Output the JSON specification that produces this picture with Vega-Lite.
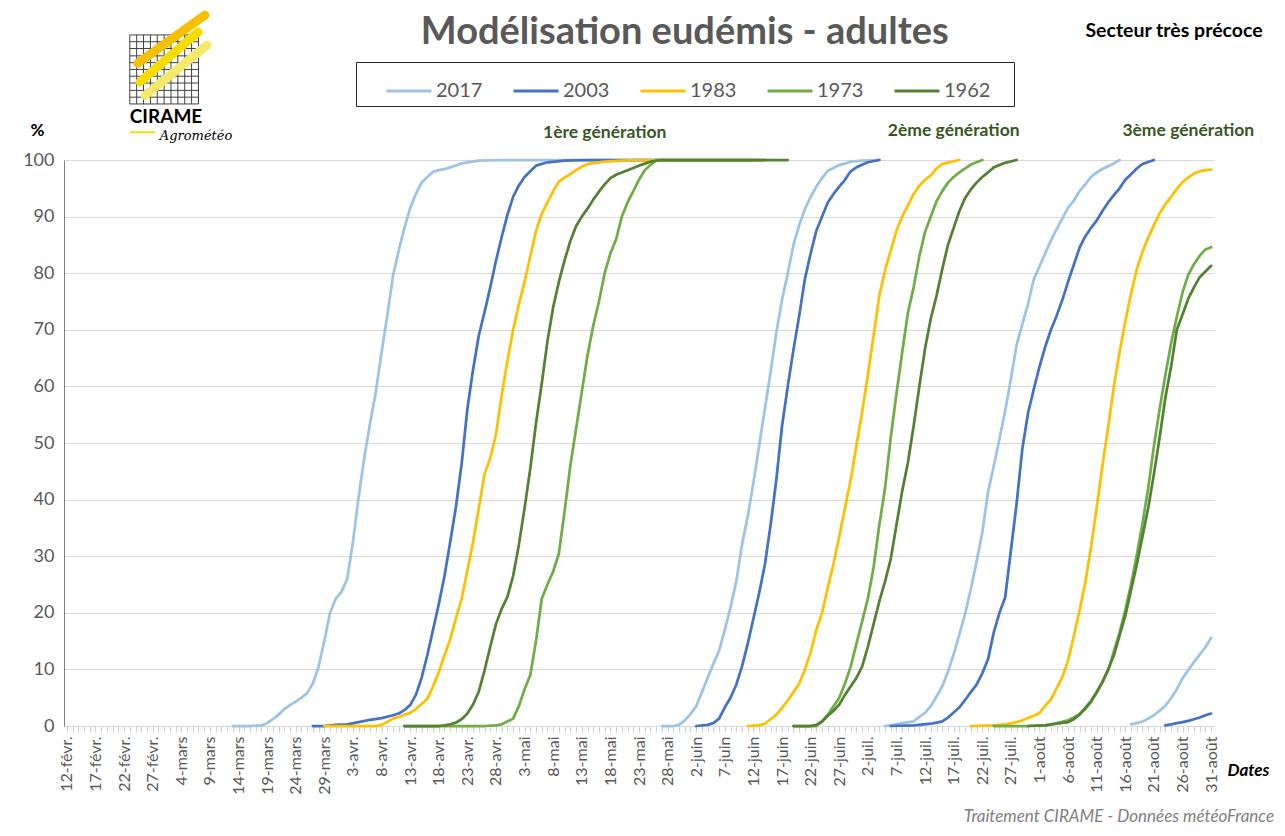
{
  "$schema": "https://vega.github.io/schema/vega-lite/v6.json",
  "width": 1150,
  "height": 566,
  "autosize": {"type": "none"},
  "padding": {"left": 64, "top": 160, "right": 71, "bottom": 110},
  "background": "white",
  "config": {"view": {"stroke": null}, "font": "Lato"},
  "encoding": {
    "x": {"field": "date", "type": "temporal",
      "scale": {"type": "utc", "domain": [{"year": 2017, "month": 2, "date": 11, "hours": 12, "utc": true}, {"year": 2017, "month": 8, "date": 31, "hours": 12, "utc": true}]},
      "axis": {"tickCount": {"interval": "day", "step": 1}, "labelExpr": "round((datum.value - utc(2017,1,12))/86400000) % 5 == 0 ? utcdate(datum.value) + '-' + ['janv.','févr.','mars','avr.','mai','juin','juil.','août'][utcmonth(datum.value)] : ''",
        "labelAngle": -90, "labelAlign": "right", "labelBaseline": "middle", "labelFontSize": 16, "labelColor": "#595959", "labelFont": "Lato", "labelPadding": 4, "labelOverlap": false, "labelBound": false, "labelFlush": false,
        "tickColor": "#d0d0d0", "tickSize": 6, "tickWidth": 1, "domainColor": "#d9d9d9", "domainWidth": 1, "grid": false,
        "title": "Dates", "titleX": 1184, "titleY": 44, "titleAlign": "center", "titleBaseline": "middle", "titleFontSize": 17, "titleFontWeight": "bold", "titleFontStyle": "italic", "titleColor": "#000000", "titleFont": "Lato"}},
    "y": {"field": "pct", "type": "quantitative",
      "scale": {"domain": [0, 100], "nice": false},
      "axis": {"values": [0, 10, 20, 30, 40, 50, 60, 70, 80, 90, 100], "labelFontSize": 18, "labelColor": "#595959", "labelFont": "Lato", "labelPadding": 10, "ticks": false,
        "grid": true, "gridColor": "#d9d9d9", "gridWidth": 1, "domainColor": "#7f7f7f", "domainWidth": 1,
        "title": "%", "titleAngle": 0, "titleX": -27, "titleY": -30, "titleAlign": "center", "titleBaseline": "middle", "titleFontSize": 17, "titleFontWeight": "bold", "titleColor": "#000000", "titleFont": "Lato"}}
  },
  "layer": [
    {
      "data": {"values": [
        {"date": "2017-02-23T00:00Z", "pct": 109.9, "pct2": 122.1}, {"date": "2017-02-24T04:48Z", "pct": 109.9, "pct2": 122.1}, {"date": "2017-02-25T09:36Z", "pct": 109.9, "pct2": 122.1}, {"date": "2017-02-26T14:24Z", "pct": 109.9, "pct2": 122.1}, {"date": "2017-02-27T19:12Z", "pct": 109.9, "pct2": 122.1}, {"date": "2017-03-01T00:00Z", "pct": 109.9, "pct2": 122.1}, {"date": "2017-03-02T04:48Z", "pct": 109.9, "pct2": 122.1}, {"date": "2017-03-03T09:36Z", "pct": 109.9, "pct2": 122.1}, {"date": "2017-03-04T14:24Z", "pct": 109.9, "pct2": 122.1}, {"date": "2017-03-05T19:12Z", "pct": 109.9, "pct2": 122.1}, {"date": "2017-03-07T00:00Z", "pct": 109.9, "pct2": 122.1}
      ]},
      "mark": {"type": "rule", "color": "#404040", "strokeWidth": 1},
      "encoding": {"y2": {"field": "pct2"}}
    },
    {
      "data": {"values": [
        {"date": "2017-02-23T00:00Z", "date2": "2017-03-07T00:00Z", "pct": 109.9}, {"date": "2017-02-23T00:00Z", "date2": "2017-03-07T00:00Z", "pct": 111.1}, {"date": "2017-02-23T00:00Z", "date2": "2017-03-07T00:00Z", "pct": 112.3}, {"date": "2017-02-23T00:00Z", "date2": "2017-03-07T00:00Z", "pct": 113.6}, {"date": "2017-02-23T00:00Z", "date2": "2017-03-07T00:00Z", "pct": 114.8}, {"date": "2017-02-23T00:00Z", "date2": "2017-03-07T00:00Z", "pct": 116.0}, {"date": "2017-02-23T00:00Z", "date2": "2017-03-07T00:00Z", "pct": 117.2}, {"date": "2017-02-23T00:00Z", "date2": "2017-03-07T00:00Z", "pct": 118.4}, {"date": "2017-02-23T00:00Z", "date2": "2017-03-07T00:00Z", "pct": 119.7}, {"date": "2017-02-23T00:00Z", "date2": "2017-03-07T00:00Z", "pct": 120.9}, {"date": "2017-02-23T00:00Z", "date2": "2017-03-07T00:00Z", "pct": 122.1}
      ]},
      "mark": {"type": "rule", "color": "#404040", "strokeWidth": 1},
      "encoding": {"x2": {"field": "date2"}}
    },
    {
      "data": {"values": [{"date": "2017-02-24T10:00Z", "pct": 117.1}, {"date": "2017-03-08T03:00Z", "pct": 125.6}]},
      "mark": {"type": "line", "color": "#F5C000", "strokeWidth": 9, "strokeCap": "round"},
      "encoding": {}
    },
    {
      "data": {"values": [{"date": "2017-02-24T19:00Z", "pct": 113.8}, {"date": "2017-03-06T22:00Z", "pct": 122.6}]},
      "mark": {"type": "line", "color": "#F8DC00", "strokeWidth": 9, "strokeCap": "round"},
      "encoding": {}
    },
    {
      "data": {"values": [{"date": "2017-02-25T16:00Z", "pct": 111.4}, {"date": "2017-03-08T12:00Z", "pct": 120.3}]},
      "mark": {"type": "line", "color": "#F4E96A", "strokeWidth": 9, "strokeCap": "round"},
      "encoding": {}
    },
    {
      "data": {"values": [{"date": "2017-02-23T01:00Z", "pct": 104.9}, {"date": "2017-02-27T10:00Z", "pct": 104.9}]},
      "mark": {"type": "line", "color": "#F2E000", "strokeWidth": 2},
      "encoding": {}
    },
    {
      "data": {"values": [
        {"year":"2017","gen":1,"date":"2017-03-13","pct":0},{"year":"2017","gen":1,"date":"2017-03-16","pct":0},{"year":"2017","gen":1,"date":"2017-03-18","pct":0.1},{"year":"2017","gen":1,"date":"2017-03-19","pct":0.5},{"year":"2017","gen":1,"date":"2017-03-20","pct":1.2},{"year":"2017","gen":1,"date":"2017-03-21","pct":2},{"year":"2017","gen":1,"date":"2017-03-22","pct":3},{"year":"2017","gen":1,"date":"2017-03-23","pct":3.7},{"year":"2017","gen":1,"date":"2017-03-24","pct":4.3},{"year":"2017","gen":1,"date":"2017-03-25","pct":5},{"year":"2017","gen":1,"date":"2017-03-26","pct":5.8},{"year":"2017","gen":1,"date":"2017-03-27","pct":7.5},{"year":"2017","gen":1,"date":"2017-03-28","pct":10.5},{"year":"2017","gen":1,"date":"2017-03-29","pct":15},{"year":"2017","gen":1,"date":"2017-03-30","pct":20},{"year":"2017","gen":1,"date":"2017-03-31","pct":22.5},{"year":"2017","gen":1,"date":"2017-04-01","pct":23.7},{"year":"2017","gen":1,"date":"2017-04-02","pct":26},{"year":"2017","gen":1,"date":"2017-04-03","pct":32.5},{"year":"2017","gen":1,"date":"2017-04-04","pct":40.5},{"year":"2017","gen":1,"date":"2017-04-05","pct":47.5},{"year":"2017","gen":1,"date":"2017-04-06","pct":53.5},{"year":"2017","gen":1,"date":"2017-04-07","pct":59},{"year":"2017","gen":1,"date":"2017-04-08","pct":66},{"year":"2017","gen":1,"date":"2017-04-09","pct":72.5},{"year":"2017","gen":1,"date":"2017-04-10","pct":79.5},{"year":"2017","gen":1,"date":"2017-04-11","pct":84},{"year":"2017","gen":1,"date":"2017-04-12","pct":88},{"year":"2017","gen":1,"date":"2017-04-13","pct":91.5},{"year":"2017","gen":1,"date":"2017-04-14","pct":94},{"year":"2017","gen":1,"date":"2017-04-15","pct":96},{"year":"2017","gen":1,"date":"2017-04-16","pct":97},{"year":"2017","gen":1,"date":"2017-04-17","pct":97.9},{"year":"2017","gen":1,"date":"2017-04-18","pct":98.2},{"year":"2017","gen":1,"date":"2017-04-19","pct":98.4},{"year":"2017","gen":1,"date":"2017-04-20","pct":98.7},{"year":"2017","gen":1,"date":"2017-04-22","pct":99.4},{"year":"2017","gen":1,"date":"2017-04-25","pct":99.9},{"year":"2017","gen":1,"date":"2017-04-29","pct":100},{"year":"2017","gen":1,"date":"2017-06-12","pct":100},
        {"year":"2017","gen":2,"date":"2017-05-27","pct":0},{"year":"2017","gen":2,"date":"2017-05-29","pct":0},{"year":"2017","gen":2,"date":"2017-05-30","pct":0.2},{"year":"2017","gen":2,"date":"2017-05-31","pct":1},{"year":"2017","gen":2,"date":"2017-06-01","pct":2.1},{"year":"2017","gen":2,"date":"2017-06-02","pct":3.5},{"year":"2017","gen":2,"date":"2017-06-03","pct":6},{"year":"2017","gen":2,"date":"2017-06-04","pct":8.5},{"year":"2017","gen":2,"date":"2017-06-05","pct":11},{"year":"2017","gen":2,"date":"2017-06-06","pct":13.3},{"year":"2017","gen":2,"date":"2017-06-07","pct":17},{"year":"2017","gen":2,"date":"2017-06-08","pct":21},{"year":"2017","gen":2,"date":"2017-06-09","pct":25.5},{"year":"2017","gen":2,"date":"2017-06-10","pct":32},{"year":"2017","gen":2,"date":"2017-06-11","pct":37},{"year":"2017","gen":2,"date":"2017-06-12","pct":43},{"year":"2017","gen":2,"date":"2017-06-13","pct":49.5},{"year":"2017","gen":2,"date":"2017-06-14","pct":56},{"year":"2017","gen":2,"date":"2017-06-15","pct":62.5},{"year":"2017","gen":2,"date":"2017-06-16","pct":69.5},{"year":"2017","gen":2,"date":"2017-06-17","pct":75.3},{"year":"2017","gen":2,"date":"2017-06-18","pct":80},{"year":"2017","gen":2,"date":"2017-06-19","pct":85},{"year":"2017","gen":2,"date":"2017-06-20","pct":88.5},{"year":"2017","gen":2,"date":"2017-06-21","pct":91.3},{"year":"2017","gen":2,"date":"2017-06-22","pct":93.5},{"year":"2017","gen":2,"date":"2017-06-23","pct":95.3},{"year":"2017","gen":2,"date":"2017-06-24","pct":96.8},{"year":"2017","gen":2,"date":"2017-06-25","pct":98.1},{"year":"2017","gen":2,"date":"2017-06-27","pct":99.1},{"year":"2017","gen":2,"date":"2017-06-29","pct":99.7},{"year":"2017","gen":2,"date":"2017-07-01","pct":99.9},{"year":"2017","gen":2,"date":"2017-07-04","pct":100},
        {"year":"2017","gen":3,"date":"2017-07-05","pct":0},{"year":"2017","gen":3,"date":"2017-07-06","pct":0.1},{"year":"2017","gen":3,"date":"2017-07-08","pct":0.5},{"year":"2017","gen":3,"date":"2017-07-10","pct":0.8},{"year":"2017","gen":3,"date":"2017-07-11","pct":1.6},{"year":"2017","gen":3,"date":"2017-07-12","pct":2.3},{"year":"2017","gen":3,"date":"2017-07-13","pct":3.5},{"year":"2017","gen":3,"date":"2017-07-14","pct":5.2},{"year":"2017","gen":3,"date":"2017-07-15","pct":7},{"year":"2017","gen":3,"date":"2017-07-16","pct":9.6},{"year":"2017","gen":3,"date":"2017-07-17","pct":12.7},{"year":"2017","gen":3,"date":"2017-07-18","pct":16.2},{"year":"2017","gen":3,"date":"2017-07-19","pct":19.8},{"year":"2017","gen":3,"date":"2017-07-20","pct":24.2},{"year":"2017","gen":3,"date":"2017-07-21","pct":29},{"year":"2017","gen":3,"date":"2017-07-22","pct":34.2},{"year":"2017","gen":3,"date":"2017-07-23","pct":41.3},{"year":"2017","gen":3,"date":"2017-07-24","pct":45.9},{"year":"2017","gen":3,"date":"2017-07-25","pct":50.7},{"year":"2017","gen":3,"date":"2017-07-26","pct":55.7},{"year":"2017","gen":3,"date":"2017-07-27","pct":61.3},{"year":"2017","gen":3,"date":"2017-07-28","pct":67.3},{"year":"2017","gen":3,"date":"2017-07-29","pct":71},{"year":"2017","gen":3,"date":"2017-07-30","pct":74.6},{"year":"2017","gen":3,"date":"2017-07-31","pct":78.9},{"year":"2017","gen":3,"date":"2017-08-01","pct":81.2},{"year":"2017","gen":3,"date":"2017-08-02","pct":83.5},{"year":"2017","gen":3,"date":"2017-08-03","pct":85.8},{"year":"2017","gen":3,"date":"2017-08-04","pct":87.8},{"year":"2017","gen":3,"date":"2017-08-05","pct":89.7},{"year":"2017","gen":3,"date":"2017-08-06","pct":91.6},{"year":"2017","gen":3,"date":"2017-08-07","pct":92.8},{"year":"2017","gen":3,"date":"2017-08-08","pct":94.5},{"year":"2017","gen":3,"date":"2017-08-09","pct":95.7},{"year":"2017","gen":3,"date":"2017-08-10","pct":97},{"year":"2017","gen":3,"date":"2017-08-11","pct":97.8},{"year":"2017","gen":3,"date":"2017-08-12","pct":98.4},{"year":"2017","gen":3,"date":"2017-08-13","pct":98.9},{"year":"2017","gen":3,"date":"2017-08-14","pct":99.4},{"year":"2017","gen":3,"date":"2017-08-15","pct":100},
        {"year":"2017","gen":4,"date":"2017-08-17","pct":0.3},{"year":"2017","gen":4,"date":"2017-08-18","pct":0.5},{"year":"2017","gen":4,"date":"2017-08-19","pct":0.8},{"year":"2017","gen":4,"date":"2017-08-20","pct":1.3},{"year":"2017","gen":4,"date":"2017-08-21","pct":1.9},{"year":"2017","gen":4,"date":"2017-08-22","pct":2.7},{"year":"2017","gen":4,"date":"2017-08-23","pct":3.6},{"year":"2017","gen":4,"date":"2017-08-24","pct":4.9},{"year":"2017","gen":4,"date":"2017-08-25","pct":6.5},{"year":"2017","gen":4,"date":"2017-08-26","pct":8.4},{"year":"2017","gen":4,"date":"2017-08-27","pct":9.9},{"year":"2017","gen":4,"date":"2017-08-28","pct":11.3},{"year":"2017","gen":4,"date":"2017-08-29","pct":12.6},{"year":"2017","gen":4,"date":"2017-08-30","pct":13.9},{"year":"2017","gen":4,"date":"2017-08-31","pct":15.6},
        {"year":"2003","gen":1,"date":"2017-03-27","pct":0},{"year":"2003","gen":1,"date":"2017-03-29","pct":0},{"year":"2003","gen":1,"date":"2017-03-31","pct":0.2},{"year":"2003","gen":1,"date":"2017-04-02","pct":0.3},{"year":"2003","gen":1,"date":"2017-04-04","pct":0.7},{"year":"2003","gen":1,"date":"2017-04-06","pct":1.1},{"year":"2003","gen":1,"date":"2017-04-08","pct":1.4},{"year":"2003","gen":1,"date":"2017-04-10","pct":1.9},{"year":"2003","gen":1,"date":"2017-04-11","pct":2.2},{"year":"2003","gen":1,"date":"2017-04-12","pct":2.8},{"year":"2003","gen":1,"date":"2017-04-13","pct":3.7},{"year":"2003","gen":1,"date":"2017-04-14","pct":5.5},{"year":"2003","gen":1,"date":"2017-04-15","pct":8.5},{"year":"2003","gen":1,"date":"2017-04-16","pct":12.5},{"year":"2003","gen":1,"date":"2017-04-17","pct":17},{"year":"2003","gen":1,"date":"2017-04-18","pct":21.5},{"year":"2003","gen":1,"date":"2017-04-19","pct":26.5},{"year":"2003","gen":1,"date":"2017-04-20","pct":32.5},{"year":"2003","gen":1,"date":"2017-04-21","pct":38.7},{"year":"2003","gen":1,"date":"2017-04-22","pct":46.3},{"year":"2003","gen":1,"date":"2017-04-23","pct":56},{"year":"2003","gen":1,"date":"2017-04-24","pct":63},{"year":"2003","gen":1,"date":"2017-04-25","pct":69},{"year":"2003","gen":1,"date":"2017-04-26","pct":73.1},{"year":"2003","gen":1,"date":"2017-04-27","pct":77.5},{"year":"2003","gen":1,"date":"2017-04-28","pct":82.2},{"year":"2003","gen":1,"date":"2017-04-29","pct":86.4},{"year":"2003","gen":1,"date":"2017-04-30","pct":90.3},{"year":"2003","gen":1,"date":"2017-05-01","pct":93.5},{"year":"2003","gen":1,"date":"2017-05-02","pct":95.5},{"year":"2003","gen":1,"date":"2017-05-03","pct":97},{"year":"2003","gen":1,"date":"2017-05-04","pct":98},{"year":"2003","gen":1,"date":"2017-05-05","pct":99},{"year":"2003","gen":1,"date":"2017-05-07","pct":99.6},{"year":"2003","gen":1,"date":"2017-05-10","pct":99.9},{"year":"2003","gen":1,"date":"2017-05-14","pct":100},{"year":"2003","gen":1,"date":"2017-06-14","pct":100},
        {"year":"2003","gen":2,"date":"2017-06-02","pct":0},{"year":"2003","gen":2,"date":"2017-06-04","pct":0.2},{"year":"2003","gen":2,"date":"2017-06-05","pct":0.5},{"year":"2003","gen":2,"date":"2017-06-06","pct":1.3},{"year":"2003","gen":2,"date":"2017-06-07","pct":3.3},{"year":"2003","gen":2,"date":"2017-06-08","pct":5},{"year":"2003","gen":2,"date":"2017-06-09","pct":7.3},{"year":"2003","gen":2,"date":"2017-06-10","pct":10.5},{"year":"2003","gen":2,"date":"2017-06-11","pct":14.5},{"year":"2003","gen":2,"date":"2017-06-12","pct":19},{"year":"2003","gen":2,"date":"2017-06-13","pct":23.5},{"year":"2003","gen":2,"date":"2017-06-14","pct":28.5},{"year":"2003","gen":2,"date":"2017-06-15","pct":35.5},{"year":"2003","gen":2,"date":"2017-06-16","pct":43.5},{"year":"2003","gen":2,"date":"2017-06-17","pct":53},{"year":"2003","gen":2,"date":"2017-06-18","pct":60},{"year":"2003","gen":2,"date":"2017-06-19","pct":66.5},{"year":"2003","gen":2,"date":"2017-06-20","pct":72.5},{"year":"2003","gen":2,"date":"2017-06-21","pct":79},{"year":"2003","gen":2,"date":"2017-06-22","pct":83.5},{"year":"2003","gen":2,"date":"2017-06-23","pct":87.5},{"year":"2003","gen":2,"date":"2017-06-24","pct":90},{"year":"2003","gen":2,"date":"2017-06-25","pct":92.5},{"year":"2003","gen":2,"date":"2017-06-26","pct":94},{"year":"2003","gen":2,"date":"2017-06-27","pct":95.3},{"year":"2003","gen":2,"date":"2017-06-28","pct":96.5},{"year":"2003","gen":2,"date":"2017-06-29","pct":98},{"year":"2003","gen":2,"date":"2017-06-30","pct":98.7},{"year":"2003","gen":2,"date":"2017-07-02","pct":99.6},{"year":"2003","gen":2,"date":"2017-07-04","pct":100},
        {"year":"2003","gen":3,"date":"2017-07-06","pct":0},{"year":"2003","gen":3,"date":"2017-07-10","pct":0.1},{"year":"2003","gen":3,"date":"2017-07-13","pct":0.4},{"year":"2003","gen":3,"date":"2017-07-14","pct":0.6},{"year":"2003","gen":3,"date":"2017-07-15","pct":0.8},{"year":"2003","gen":3,"date":"2017-07-16","pct":1.5},{"year":"2003","gen":3,"date":"2017-07-17","pct":2.4},{"year":"2003","gen":3,"date":"2017-07-18","pct":3.3},{"year":"2003","gen":3,"date":"2017-07-19","pct":4.6},{"year":"2003","gen":3,"date":"2017-07-20","pct":6},{"year":"2003","gen":3,"date":"2017-07-21","pct":7.3},{"year":"2003","gen":3,"date":"2017-07-22","pct":9.3},{"year":"2003","gen":3,"date":"2017-07-23","pct":11.8},{"year":"2003","gen":3,"date":"2017-07-24","pct":16.5},{"year":"2003","gen":3,"date":"2017-07-25","pct":20},{"year":"2003","gen":3,"date":"2017-07-26","pct":22.7},{"year":"2003","gen":3,"date":"2017-07-27","pct":31},{"year":"2003","gen":3,"date":"2017-07-28","pct":39.3},{"year":"2003","gen":3,"date":"2017-07-29","pct":49},{"year":"2003","gen":3,"date":"2017-07-30","pct":55.3},{"year":"2003","gen":3,"date":"2017-07-31","pct":59.5},{"year":"2003","gen":3,"date":"2017-08-01","pct":63.5},{"year":"2003","gen":3,"date":"2017-08-02","pct":67},{"year":"2003","gen":3,"date":"2017-08-03","pct":70},{"year":"2003","gen":3,"date":"2017-08-04","pct":72.5},{"year":"2003","gen":3,"date":"2017-08-05","pct":75.3},{"year":"2003","gen":3,"date":"2017-08-06","pct":78.5},{"year":"2003","gen":3,"date":"2017-08-07","pct":81.5},{"year":"2003","gen":3,"date":"2017-08-08","pct":84.5},{"year":"2003","gen":3,"date":"2017-08-09","pct":86.5},{"year":"2003","gen":3,"date":"2017-08-10","pct":88},{"year":"2003","gen":3,"date":"2017-08-11","pct":89.3},{"year":"2003","gen":3,"date":"2017-08-12","pct":91},{"year":"2003","gen":3,"date":"2017-08-13","pct":92.5},{"year":"2003","gen":3,"date":"2017-08-14","pct":93.8},{"year":"2003","gen":3,"date":"2017-08-15","pct":95},{"year":"2003","gen":3,"date":"2017-08-16","pct":96.5},{"year":"2003","gen":3,"date":"2017-08-17","pct":97.5},{"year":"2003","gen":3,"date":"2017-08-18","pct":98.5},{"year":"2003","gen":3,"date":"2017-08-19","pct":99.3},{"year":"2003","gen":3,"date":"2017-08-21","pct":100},
        {"year":"2003","gen":4,"date":"2017-08-23","pct":0.1},{"year":"2003","gen":4,"date":"2017-08-24","pct":0.3},{"year":"2003","gen":4,"date":"2017-08-25","pct":0.5},{"year":"2003","gen":4,"date":"2017-08-26","pct":0.7},{"year":"2003","gen":4,"date":"2017-08-27","pct":0.9},{"year":"2003","gen":4,"date":"2017-08-28","pct":1.2},{"year":"2003","gen":4,"date":"2017-08-29","pct":1.5},{"year":"2003","gen":4,"date":"2017-08-30","pct":1.9},{"year":"2003","gen":4,"date":"2017-08-31","pct":2.2},
        {"year":"1983","gen":1,"date":"2017-03-29","pct":0},{"year":"1983","gen":1,"date":"2017-04-03","pct":0},{"year":"1983","gen":1,"date":"2017-04-07","pct":0},{"year":"1983","gen":1,"date":"2017-04-08","pct":0.2},{"year":"1983","gen":1,"date":"2017-04-09","pct":0.7},{"year":"1983","gen":1,"date":"2017-04-10","pct":1.3},{"year":"1983","gen":1,"date":"2017-04-11","pct":1.6},{"year":"1983","gen":1,"date":"2017-04-12","pct":2},{"year":"1983","gen":1,"date":"2017-04-13","pct":2.3},{"year":"1983","gen":1,"date":"2017-04-14","pct":3},{"year":"1983","gen":1,"date":"2017-04-15","pct":3.9},{"year":"1983","gen":1,"date":"2017-04-16","pct":4.8},{"year":"1983","gen":1,"date":"2017-04-17","pct":7},{"year":"1983","gen":1,"date":"2017-04-18","pct":9.5},{"year":"1983","gen":1,"date":"2017-04-19","pct":12.5},{"year":"1983","gen":1,"date":"2017-04-20","pct":15.3},{"year":"1983","gen":1,"date":"2017-04-21","pct":19},{"year":"1983","gen":1,"date":"2017-04-22","pct":22.5},{"year":"1983","gen":1,"date":"2017-04-23","pct":27.5},{"year":"1983","gen":1,"date":"2017-04-24","pct":32.5},{"year":"1983","gen":1,"date":"2017-04-25","pct":38.5},{"year":"1983","gen":1,"date":"2017-04-26","pct":44.5},{"year":"1983","gen":1,"date":"2017-04-27","pct":47.3},{"year":"1983","gen":1,"date":"2017-04-28","pct":51.5},{"year":"1983","gen":1,"date":"2017-04-29","pct":58.5},{"year":"1983","gen":1,"date":"2017-04-30","pct":64.5},{"year":"1983","gen":1,"date":"2017-05-01","pct":70},{"year":"1983","gen":1,"date":"2017-05-02","pct":74.5},{"year":"1983","gen":1,"date":"2017-05-03","pct":78.5},{"year":"1983","gen":1,"date":"2017-05-04","pct":83},{"year":"1983","gen":1,"date":"2017-05-05","pct":87.5},{"year":"1983","gen":1,"date":"2017-05-06","pct":90.5},{"year":"1983","gen":1,"date":"2017-05-07","pct":92.5},{"year":"1983","gen":1,"date":"2017-05-08","pct":94.5},{"year":"1983","gen":1,"date":"2017-05-09","pct":96.2},{"year":"1983","gen":1,"date":"2017-05-10","pct":96.9},{"year":"1983","gen":1,"date":"2017-05-11","pct":97.5},{"year":"1983","gen":1,"date":"2017-05-12","pct":98.2},{"year":"1983","gen":1,"date":"2017-05-13","pct":98.8},{"year":"1983","gen":1,"date":"2017-05-14","pct":99.3},{"year":"1983","gen":1,"date":"2017-05-17","pct":99.7},{"year":"1983","gen":1,"date":"2017-05-20","pct":99.9},{"year":"1983","gen":1,"date":"2017-05-23","pct":100},{"year":"1983","gen":1,"date":"2017-06-14","pct":100},
        {"year":"1983","gen":2,"date":"2017-06-11","pct":0},{"year":"1983","gen":2,"date":"2017-06-13","pct":0.1},{"year":"1983","gen":2,"date":"2017-06-14","pct":0.4},{"year":"1983","gen":2,"date":"2017-06-15","pct":1.2},{"year":"1983","gen":2,"date":"2017-06-16","pct":2},{"year":"1983","gen":2,"date":"2017-06-17","pct":3.2},{"year":"1983","gen":2,"date":"2017-06-18","pct":4.5},{"year":"1983","gen":2,"date":"2017-06-19","pct":6},{"year":"1983","gen":2,"date":"2017-06-20","pct":7.5},{"year":"1983","gen":2,"date":"2017-06-21","pct":10},{"year":"1983","gen":2,"date":"2017-06-22","pct":13},{"year":"1983","gen":2,"date":"2017-06-23","pct":17},{"year":"1983","gen":2,"date":"2017-06-24","pct":20},{"year":"1983","gen":2,"date":"2017-06-25","pct":24.5},{"year":"1983","gen":2,"date":"2017-06-26","pct":28.7},{"year":"1983","gen":2,"date":"2017-06-27","pct":33.5},{"year":"1983","gen":2,"date":"2017-06-28","pct":38.5},{"year":"1983","gen":2,"date":"2017-06-29","pct":43.5},{"year":"1983","gen":2,"date":"2017-06-30","pct":49.5},{"year":"1983","gen":2,"date":"2017-07-01","pct":55.5},{"year":"1983","gen":2,"date":"2017-07-02","pct":62},{"year":"1983","gen":2,"date":"2017-07-03","pct":69},{"year":"1983","gen":2,"date":"2017-07-04","pct":76},{"year":"1983","gen":2,"date":"2017-07-05","pct":80.5},{"year":"1983","gen":2,"date":"2017-07-06","pct":84},{"year":"1983","gen":2,"date":"2017-07-07","pct":87.5},{"year":"1983","gen":2,"date":"2017-07-08","pct":90},{"year":"1983","gen":2,"date":"2017-07-09","pct":92},{"year":"1983","gen":2,"date":"2017-07-10","pct":94},{"year":"1983","gen":2,"date":"2017-07-11","pct":95.5},{"year":"1983","gen":2,"date":"2017-07-12","pct":96.5},{"year":"1983","gen":2,"date":"2017-07-13","pct":97.3},{"year":"1983","gen":2,"date":"2017-07-14","pct":98.5},{"year":"1983","gen":2,"date":"2017-07-15","pct":99.3},{"year":"1983","gen":2,"date":"2017-07-18","pct":100},
        {"year":"1983","gen":3,"date":"2017-07-20","pct":0},{"year":"1983","gen":3,"date":"2017-07-24","pct":0.1},{"year":"1983","gen":3,"date":"2017-07-26","pct":0.3},{"year":"1983","gen":3,"date":"2017-07-28","pct":0.7},{"year":"1983","gen":3,"date":"2017-07-29","pct":1},{"year":"1983","gen":3,"date":"2017-07-30","pct":1.4},{"year":"1983","gen":3,"date":"2017-07-31","pct":1.8},{"year":"1983","gen":3,"date":"2017-08-01","pct":2.3},{"year":"1983","gen":3,"date":"2017-08-02","pct":3.6},{"year":"1983","gen":3,"date":"2017-08-03","pct":4.7},{"year":"1983","gen":3,"date":"2017-08-04","pct":6.7},{"year":"1983","gen":3,"date":"2017-08-05","pct":8.7},{"year":"1983","gen":3,"date":"2017-08-06","pct":11.6},{"year":"1983","gen":3,"date":"2017-08-07","pct":15.9},{"year":"1983","gen":3,"date":"2017-08-08","pct":20.4},{"year":"1983","gen":3,"date":"2017-08-09","pct":25.3},{"year":"1983","gen":3,"date":"2017-08-10","pct":31.6},{"year":"1983","gen":3,"date":"2017-08-11","pct":38.6},{"year":"1983","gen":3,"date":"2017-08-12","pct":46},{"year":"1983","gen":3,"date":"2017-08-13","pct":52.8},{"year":"1983","gen":3,"date":"2017-08-14","pct":60},{"year":"1983","gen":3,"date":"2017-08-15","pct":66.1},{"year":"1983","gen":3,"date":"2017-08-16","pct":71.5},{"year":"1983","gen":3,"date":"2017-08-17","pct":76.4},{"year":"1983","gen":3,"date":"2017-08-18","pct":80.7},{"year":"1983","gen":3,"date":"2017-08-19","pct":83.8},{"year":"1983","gen":3,"date":"2017-08-20","pct":86.3},{"year":"1983","gen":3,"date":"2017-08-21","pct":88.5},{"year":"1983","gen":3,"date":"2017-08-22","pct":90.6},{"year":"1983","gen":3,"date":"2017-08-23","pct":92.2},{"year":"1983","gen":3,"date":"2017-08-24","pct":93.5},{"year":"1983","gen":3,"date":"2017-08-25","pct":94.9},{"year":"1983","gen":3,"date":"2017-08-26","pct":96.1},{"year":"1983","gen":3,"date":"2017-08-27","pct":96.9},{"year":"1983","gen":3,"date":"2017-08-28","pct":97.6},{"year":"1983","gen":3,"date":"2017-08-29","pct":98},{"year":"1983","gen":3,"date":"2017-08-30","pct":98.2},{"year":"1983","gen":3,"date":"2017-08-31","pct":98.3},
        {"year":"1973","gen":1,"date":"2017-04-12","pct":0},{"year":"1973","gen":1,"date":"2017-04-26","pct":0},{"year":"1973","gen":1,"date":"2017-04-28","pct":0.1},{"year":"1973","gen":1,"date":"2017-04-29","pct":0.3},{"year":"1973","gen":1,"date":"2017-04-30","pct":0.8},{"year":"1973","gen":1,"date":"2017-05-01","pct":1.3},{"year":"1973","gen":1,"date":"2017-05-02","pct":3.5},{"year":"1973","gen":1,"date":"2017-05-03","pct":6.5},{"year":"1973","gen":1,"date":"2017-05-04","pct":9},{"year":"1973","gen":1,"date":"2017-05-05","pct":15},{"year":"1973","gen":1,"date":"2017-05-06","pct":22.5},{"year":"1973","gen":1,"date":"2017-05-07","pct":25},{"year":"1973","gen":1,"date":"2017-05-08","pct":27.3},{"year":"1973","gen":1,"date":"2017-05-09","pct":30.5},{"year":"1973","gen":1,"date":"2017-05-10","pct":38},{"year":"1973","gen":1,"date":"2017-05-11","pct":46},{"year":"1973","gen":1,"date":"2017-05-12","pct":52.5},{"year":"1973","gen":1,"date":"2017-05-13","pct":59},{"year":"1973","gen":1,"date":"2017-05-14","pct":65.5},{"year":"1973","gen":1,"date":"2017-05-15","pct":70.7},{"year":"1973","gen":1,"date":"2017-05-16","pct":75},{"year":"1973","gen":1,"date":"2017-05-17","pct":80},{"year":"1973","gen":1,"date":"2017-05-18","pct":83.5},{"year":"1973","gen":1,"date":"2017-05-19","pct":86},{"year":"1973","gen":1,"date":"2017-05-20","pct":90},{"year":"1973","gen":1,"date":"2017-05-21","pct":92.5},{"year":"1973","gen":1,"date":"2017-05-22","pct":94.5},{"year":"1973","gen":1,"date":"2017-05-23","pct":96.5},{"year":"1973","gen":1,"date":"2017-05-24","pct":98.2},{"year":"1973","gen":1,"date":"2017-05-25","pct":99.1},{"year":"1973","gen":1,"date":"2017-05-26","pct":100},{"year":"1973","gen":1,"date":"2017-06-12","pct":100},
        {"year":"1973","gen":2,"date":"2017-06-19","pct":0},{"year":"1973","gen":2,"date":"2017-06-23","pct":0},{"year":"1973","gen":2,"date":"2017-06-24","pct":0.8},{"year":"1973","gen":2,"date":"2017-06-25","pct":2},{"year":"1973","gen":2,"date":"2017-06-26","pct":3.5},{"year":"1973","gen":2,"date":"2017-06-27","pct":5},{"year":"1973","gen":2,"date":"2017-06-28","pct":7.5},{"year":"1973","gen":2,"date":"2017-06-29","pct":10.5},{"year":"1973","gen":2,"date":"2017-06-30","pct":14.5},{"year":"1973","gen":2,"date":"2017-07-01","pct":18.5},{"year":"1973","gen":2,"date":"2017-07-02","pct":22.5},{"year":"1973","gen":2,"date":"2017-07-03","pct":28},{"year":"1973","gen":2,"date":"2017-07-04","pct":35.5},{"year":"1973","gen":2,"date":"2017-07-05","pct":42},{"year":"1973","gen":2,"date":"2017-07-06","pct":51},{"year":"1973","gen":2,"date":"2017-07-07","pct":58.7},{"year":"1973","gen":2,"date":"2017-07-08","pct":66},{"year":"1973","gen":2,"date":"2017-07-09","pct":73},{"year":"1973","gen":2,"date":"2017-07-10","pct":77.5},{"year":"1973","gen":2,"date":"2017-07-11","pct":83},{"year":"1973","gen":2,"date":"2017-07-12","pct":87.3},{"year":"1973","gen":2,"date":"2017-07-13","pct":90},{"year":"1973","gen":2,"date":"2017-07-14","pct":92.7},{"year":"1973","gen":2,"date":"2017-07-15","pct":94.5},{"year":"1973","gen":2,"date":"2017-07-16","pct":96},{"year":"1973","gen":2,"date":"2017-07-17","pct":97},{"year":"1973","gen":2,"date":"2017-07-18","pct":97.8},{"year":"1973","gen":2,"date":"2017-07-19","pct":98.5},{"year":"1973","gen":2,"date":"2017-07-20","pct":99.2},{"year":"1973","gen":2,"date":"2017-07-22","pct":100},
        {"year":"1973","gen":3,"date":"2017-07-24","pct":0},{"year":"1973","gen":3,"date":"2017-07-30","pct":0},{"year":"1973","gen":3,"date":"2017-08-02","pct":0.1},{"year":"1973","gen":3,"date":"2017-08-04","pct":0.5},{"year":"1973","gen":3,"date":"2017-08-06","pct":1},{"year":"1973","gen":3,"date":"2017-08-07","pct":1.5},{"year":"1973","gen":3,"date":"2017-08-08","pct":2.1},{"year":"1973","gen":3,"date":"2017-08-09","pct":3},{"year":"1973","gen":3,"date":"2017-08-10","pct":4.2},{"year":"1973","gen":3,"date":"2017-08-11","pct":5.9},{"year":"1973","gen":3,"date":"2017-08-12","pct":7.9},{"year":"1973","gen":3,"date":"2017-08-13","pct":9.8},{"year":"1973","gen":3,"date":"2017-08-14","pct":13.2},{"year":"1973","gen":3,"date":"2017-08-15","pct":16.5},{"year":"1973","gen":3,"date":"2017-08-16","pct":20.5},{"year":"1973","gen":3,"date":"2017-08-17","pct":25},{"year":"1973","gen":3,"date":"2017-08-18","pct":30.2},{"year":"1973","gen":3,"date":"2017-08-19","pct":35.8},{"year":"1973","gen":3,"date":"2017-08-20","pct":42},{"year":"1973","gen":3,"date":"2017-08-21","pct":49.5},{"year":"1973","gen":3,"date":"2017-08-22","pct":56},{"year":"1973","gen":3,"date":"2017-08-23","pct":62},{"year":"1973","gen":3,"date":"2017-08-24","pct":67.6},{"year":"1973","gen":3,"date":"2017-08-25","pct":72.3},{"year":"1973","gen":3,"date":"2017-08-26","pct":76.6},{"year":"1973","gen":3,"date":"2017-08-27","pct":79.7},{"year":"1973","gen":3,"date":"2017-08-28","pct":81.6},{"year":"1973","gen":3,"date":"2017-08-29","pct":83.1},{"year":"1973","gen":3,"date":"2017-08-30","pct":84.2},{"year":"1973","gen":3,"date":"2017-08-31","pct":84.6},
        {"year":"1962","gen":1,"date":"2017-04-12","pct":0},{"year":"1962","gen":1,"date":"2017-04-18","pct":0},{"year":"1962","gen":1,"date":"2017-04-19","pct":0.1},{"year":"1962","gen":1,"date":"2017-04-20","pct":0.3},{"year":"1962","gen":1,"date":"2017-04-21","pct":0.6},{"year":"1962","gen":1,"date":"2017-04-22","pct":1.2},{"year":"1962","gen":1,"date":"2017-04-23","pct":2.2},{"year":"1962","gen":1,"date":"2017-04-24","pct":3.8},{"year":"1962","gen":1,"date":"2017-04-25","pct":6.1},{"year":"1962","gen":1,"date":"2017-04-26","pct":9.8},{"year":"1962","gen":1,"date":"2017-04-27","pct":14},{"year":"1962","gen":1,"date":"2017-04-28","pct":18},{"year":"1962","gen":1,"date":"2017-04-29","pct":20.7},{"year":"1962","gen":1,"date":"2017-04-30","pct":22.8},{"year":"1962","gen":1,"date":"2017-05-01","pct":26.5},{"year":"1962","gen":1,"date":"2017-05-02","pct":32},{"year":"1962","gen":1,"date":"2017-05-03","pct":38.5},{"year":"1962","gen":1,"date":"2017-05-04","pct":45.5},{"year":"1962","gen":1,"date":"2017-05-05","pct":53.5},{"year":"1962","gen":1,"date":"2017-05-06","pct":60.5},{"year":"1962","gen":1,"date":"2017-05-07","pct":68},{"year":"1962","gen":1,"date":"2017-05-08","pct":74},{"year":"1962","gen":1,"date":"2017-05-09","pct":78.5},{"year":"1962","gen":1,"date":"2017-05-10","pct":82.3},{"year":"1962","gen":1,"date":"2017-05-11","pct":85.7},{"year":"1962","gen":1,"date":"2017-05-12","pct":88.3},{"year":"1962","gen":1,"date":"2017-05-13","pct":90},{"year":"1962","gen":1,"date":"2017-05-14","pct":91.4},{"year":"1962","gen":1,"date":"2017-05-15","pct":93},{"year":"1962","gen":1,"date":"2017-05-16","pct":94.4},{"year":"1962","gen":1,"date":"2017-05-17","pct":95.7},{"year":"1962","gen":1,"date":"2017-05-18","pct":96.8},{"year":"1962","gen":1,"date":"2017-05-19","pct":97.4},{"year":"1962","gen":1,"date":"2017-05-20","pct":97.8},{"year":"1962","gen":1,"date":"2017-05-21","pct":98.2},{"year":"1962","gen":1,"date":"2017-05-23","pct":99},{"year":"1962","gen":1,"date":"2017-05-25","pct":99.7},{"year":"1962","gen":1,"date":"2017-05-27","pct":100},{"year":"1962","gen":1,"date":"2017-06-18","pct":100},
        {"year":"1962","gen":2,"date":"2017-06-19","pct":0},{"year":"1962","gen":2,"date":"2017-06-22","pct":0},{"year":"1962","gen":2,"date":"2017-06-23","pct":0.2},{"year":"1962","gen":2,"date":"2017-06-24","pct":0.8},{"year":"1962","gen":2,"date":"2017-06-25","pct":1.8},{"year":"1962","gen":2,"date":"2017-06-26","pct":2.7},{"year":"1962","gen":2,"date":"2017-06-27","pct":3.8},{"year":"1962","gen":2,"date":"2017-06-28","pct":5.5},{"year":"1962","gen":2,"date":"2017-06-29","pct":7},{"year":"1962","gen":2,"date":"2017-06-30","pct":8.5},{"year":"1962","gen":2,"date":"2017-07-01","pct":10.5},{"year":"1962","gen":2,"date":"2017-07-02","pct":14},{"year":"1962","gen":2,"date":"2017-07-03","pct":18},{"year":"1962","gen":2,"date":"2017-07-04","pct":22},{"year":"1962","gen":2,"date":"2017-07-05","pct":25.5},{"year":"1962","gen":2,"date":"2017-07-06","pct":29.5},{"year":"1962","gen":2,"date":"2017-07-07","pct":35.5},{"year":"1962","gen":2,"date":"2017-07-08","pct":41.5},{"year":"1962","gen":2,"date":"2017-07-09","pct":46.5},{"year":"1962","gen":2,"date":"2017-07-10","pct":53},{"year":"1962","gen":2,"date":"2017-07-11","pct":60},{"year":"1962","gen":2,"date":"2017-07-12","pct":66.7},{"year":"1962","gen":2,"date":"2017-07-13","pct":72},{"year":"1962","gen":2,"date":"2017-07-14","pct":76},{"year":"1962","gen":2,"date":"2017-07-15","pct":80.7},{"year":"1962","gen":2,"date":"2017-07-16","pct":85},{"year":"1962","gen":2,"date":"2017-07-17","pct":88},{"year":"1962","gen":2,"date":"2017-07-18","pct":91},{"year":"1962","gen":2,"date":"2017-07-19","pct":93.3},{"year":"1962","gen":2,"date":"2017-07-20","pct":94.8},{"year":"1962","gen":2,"date":"2017-07-21","pct":96},{"year":"1962","gen":2,"date":"2017-07-22","pct":97},{"year":"1962","gen":2,"date":"2017-07-23","pct":97.8},{"year":"1962","gen":2,"date":"2017-07-24","pct":98.7},{"year":"1962","gen":2,"date":"2017-07-26","pct":99.5},{"year":"1962","gen":2,"date":"2017-07-28","pct":100},
        {"year":"1962","gen":3,"date":"2017-07-30","pct":0},{"year":"1962","gen":3,"date":"2017-08-02","pct":0.1},{"year":"1962","gen":3,"date":"2017-08-04","pct":0.4},{"year":"1962","gen":3,"date":"2017-08-06","pct":0.7},{"year":"1962","gen":3,"date":"2017-08-07","pct":1.2},{"year":"1962","gen":3,"date":"2017-08-08","pct":2},{"year":"1962","gen":3,"date":"2017-08-09","pct":3.2},{"year":"1962","gen":3,"date":"2017-08-10","pct":4.4},{"year":"1962","gen":3,"date":"2017-08-11","pct":6},{"year":"1962","gen":3,"date":"2017-08-12","pct":7.7},{"year":"1962","gen":3,"date":"2017-08-13","pct":10},{"year":"1962","gen":3,"date":"2017-08-14","pct":12.5},{"year":"1962","gen":3,"date":"2017-08-15","pct":16},{"year":"1962","gen":3,"date":"2017-08-16","pct":19.5},{"year":"1962","gen":3,"date":"2017-08-17","pct":24},{"year":"1962","gen":3,"date":"2017-08-18","pct":28.5},{"year":"1962","gen":3,"date":"2017-08-19","pct":33.5},{"year":"1962","gen":3,"date":"2017-08-20","pct":38.5},{"year":"1962","gen":3,"date":"2017-08-21","pct":44.5},{"year":"1962","gen":3,"date":"2017-08-22","pct":51},{"year":"1962","gen":3,"date":"2017-08-23","pct":58},{"year":"1962","gen":3,"date":"2017-08-24","pct":63.5},{"year":"1962","gen":3,"date":"2017-08-25","pct":70},{"year":"1962","gen":3,"date":"2017-08-26","pct":72.7},{"year":"1962","gen":3,"date":"2017-08-27","pct":75.5},{"year":"1962","gen":3,"date":"2017-08-28","pct":77.5},{"year":"1962","gen":3,"date":"2017-08-29","pct":79.3},{"year":"1962","gen":3,"date":"2017-08-30","pct":80.3},{"year":"1962","gen":3,"date":"2017-08-31","pct":81.3}
      ]},
      "mark": {"type": "line", "strokeWidth": 2.75, "strokeJoin": "round", "strokeCap": "round"},
      "encoding": {
        "color": {"field": "year", "type": "nominal",
          "scale": {"domain": ["2017", "2003", "1983", "1973", "1962"], "range": ["#9DC3E6", "#4472C4", "#FFC000", "#70AD47", "#548235"]},
          "legend": {"orient": "none", "legendX": 292, "legendY": -98, "direction": "horizontal", "title": "\u00a0", "titleOrient": "right", "titlePadding": 19, "titleFontSize": 11,
            "symbolType": "stroke", "symbolSize": 2025, "symbolStrokeWidth": 3, "symbolOffset": 24,
            "labelFontSize": 20, "labelColor": "#595959", "labelFont": "Lato", "labelOffset": 3,
            "columnPadding": 5, "padding": 5, "strokeColor": "#262626", "fillColor": "white"}},
        "detail": {"field": "gen", "type": "nominal"}
      }
    },
    {
      "data": {"values": [{"date": "2017-05-31", "pct": 122.4, "label": "Modélisation eudémis - adultes"}]},
      "mark": {"type": "text", "align": "center", "baseline": "middle", "font": "Lato", "fontSize": 38, "fontWeight": "bold", "color": "#595959"},
      "encoding": {"text": {"field": "label"}}
    },
    {
      "data": {"values": [
        {"date": "2017-05-17", "pct": 104.8, "label": "1ère génération"},
        {"date": "2017-07-17", "pct": 105.1, "label": "2ème génération"},
        {"date": "2017-08-27", "pct": 105.1, "label": "3ème génération"}
      ]},
      "mark": {"type": "text", "align": "center", "baseline": "middle", "font": "Lato", "fontSize": 17.5, "fontWeight": "bold", "color": "#375623"},
      "encoding": {"text": {"field": "label"}}
    },
    {
      "data": {"values": [{"date": "2017-09-09", "pct": 122.8, "label": "Secteur très précoce"}]},
      "mark": {"type": "text", "align": "right", "baseline": "middle", "font": "Lato", "fontSize": 19.5, "fontWeight": "bold", "color": "#000000"},
      "encoding": {"text": {"field": "label"}}
    },
    {
      "data": {"values": [{"date": "2017-09-11", "pct": -16.1, "label": "Traitement CIRAME - Données météoFrance"}]},
      "mark": {"type": "text", "align": "right", "baseline": "middle", "font": "Lato", "fontSize": 17, "fontStyle": "italic", "color": "#7f7f7f"},
      "encoding": {"text": {"field": "label"}}
    },
    {
      "data": {"values": [{"date": "2017-02-23", "pct": 107.6, "label": "CIRAME"}]},
      "mark": {"type": "text", "align": "left", "baseline": "middle", "font": "Lato", "fontSize": 19, "fontWeight": "bold", "color": "#000000"},
      "encoding": {"text": {"field": "label"}}
    },
    {
      "data": {"values": [{"date": "2017-02-28T06:00Z", "pct": 104.2, "label": "Agrométéo"}]},
      "mark": {"type": "text", "align": "left", "baseline": "middle", "font": "DejaVu Serif", "fontSize": 13, "fontStyle": "italic", "color": "#000000"},
      "encoding": {"text": {"field": "label"}}
    }
  ]
}
